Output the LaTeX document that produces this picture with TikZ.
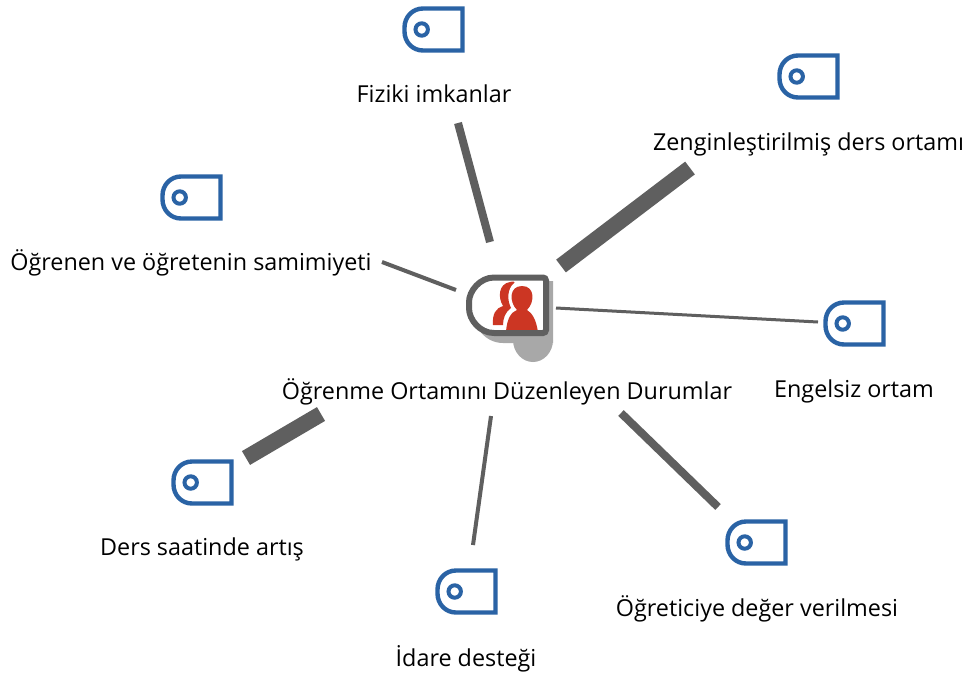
\documentclass[tikz,border=0pt]{standalone}
\usepackage{fontspec}
\setmainfont{Open Sans}
\definecolor{tagblue}{HTML}{2A63A5}
\definecolor{linegray}{HTML}{5F5F5F}
\definecolor{shadowgray}{HTML}{A8A8A8}
\definecolor{personred}{HTML}{CC3623}
\tikzset{
  lbl/.style={font=\fontsize{23.35}{27}\selectfont, inner sep=0pt, text=black},
  conn/.style={draw=linegray},
  tagicon/.pic={
    \draw[tagblue, line width=4.4pt, line join=miter]
      (58.5,0.5) -- (19,0.5) .. controls (8.5,0.5) and (0.5,9) .. (0.5,19.5) -- (0.5,23.5)
      .. controls (0.5,34) and (8.5,42.5) .. (19,42.5) -- (58.5,42.5) -- cycle;
    \draw[tagblue, line width=4pt] (17.7,21.5) circle[radius=6.2];
  }
}
\begin{document}
\begin{tikzpicture}[x=1pt,y=-1pt]
\useasboundingbox (0,0) rectangle (965,675);
\fill[white] (0,0) rectangle (965,675);
% centre icon shadow
\fill[shadowgray] (553,281) -- (480,281) -- (473,310)
  .. controls (473,328) and (486,343) .. (503,343) -- (553,343) -- cycle;
\fill[shadowgray] (513,340) .. controls (513,352) and (522,362) .. (533,362)
  .. controls (544,362) and (553,352) .. (553,340) -- cycle;
% centre icon
\node[minimum width=80pt,minimum height=60pt,inner sep=0pt] (centre) at (507,305) {};
\fill[white] (547,278) -- (497,278) .. controls (480,278) and (469,291) .. (469,305)
  .. controls (469,320) and (480,333) .. (497,333) -- (547,333) -- cycle;
% back person
\fill[personred] (493,325) .. controls (492,314) and (496,308) .. (503,306)
  .. controls (498,298) and (498,284) .. (510,282)
  .. controls (513,281) and (516,282) .. (514,283)
  .. controls (507,289) and (507,300) .. (511,308)
  .. controls (505,312) and (503,319) .. (503,325) -- cycle;
% front person
\fill[personred] (506,332) .. controls (507,317) and (512,312) .. (517,310)
  .. controls (509,302) and (509,286) .. (522,286)
  .. controls (535,286) and (535,302) .. (527,310)
  .. controls (532,313) and (536,319) .. (538,332) -- cycle;
\draw[linegray, line width=6pt, rounded corners=3pt]
  (546,277.5) -- (497,277.5) .. controls (480,277.5) and (469,291) .. (469,305)
  .. controls (469,320) and (480,333) .. (497,333) -- (546,333) -- cycle;
% labels
\node[lbl,anchor=base] (lc) at (507,399) {Öğrenme Ortamını Düzenleyen Durumlar};
\node[lbl,anchor=base] (l1) at (434,102) {Fiziki imkanlar};
\node[lbl,anchor=base] (l2) at (808.5,150) {Zenginleştirilmiş ders ortamı};
\node[lbl,anchor=base] (l3) at (191,270) {Öğrenen ve öğretenin samimiyeti};
\node[lbl,anchor=base] (l4) at (854,397) {Engelsiz ortam};
\node[lbl,anchor=base] (l5) at (202,555) {Ders saatinde artış};
\node[lbl,anchor=base] (l6) at (466,666) {İdare desteği};
\node[lbl,anchor=base] (l7) at (757,616) {Öğreticiye değer verilmesi};
% tag icons
\pic at (404,8) {tagicon};
\pic at (779,55) {tagicon};
\pic at (162,176) {tagicon};
\pic at (825,302) {tagicon};
\pic at (173,461) {tagicon};
\pic at (437,570) {tagicon};
\pic at (727,521) {tagicon};
% connector end points
\coordinate (a1) at (458,123); \coordinate (b1) at (490,242);
\coordinate (a2) at (690,168); \coordinate (b2) at (561,266);
\coordinate (a3) at (818,322); \coordinate (b3) at (556,308);
\coordinate (a4) at (718,507); \coordinate (b4) at (621,413);
\coordinate (a5) at (473,545); \coordinate (b5) at (491,416);
\coordinate (a6) at (246,458); \coordinate (b6) at (321,414);
\coordinate (a7) at (382,262); \coordinate (b7) at (456,290);
\draw[conn,line width=8pt] (a1) -- (b1);
\draw[conn,line width=16pt] (a2) -- (b2);
\draw[conn,line width=3pt] (a3) -- (b3);
\draw[conn,line width=8pt] (a4) -- (b4);
\draw[conn,line width=4pt] (a5) -- (b5);
\draw[conn,line width=16pt] (a6) -- (b6);
\draw[conn,line width=4pt] (a7) -- (b7);
\end{tikzpicture}
\end{document}
